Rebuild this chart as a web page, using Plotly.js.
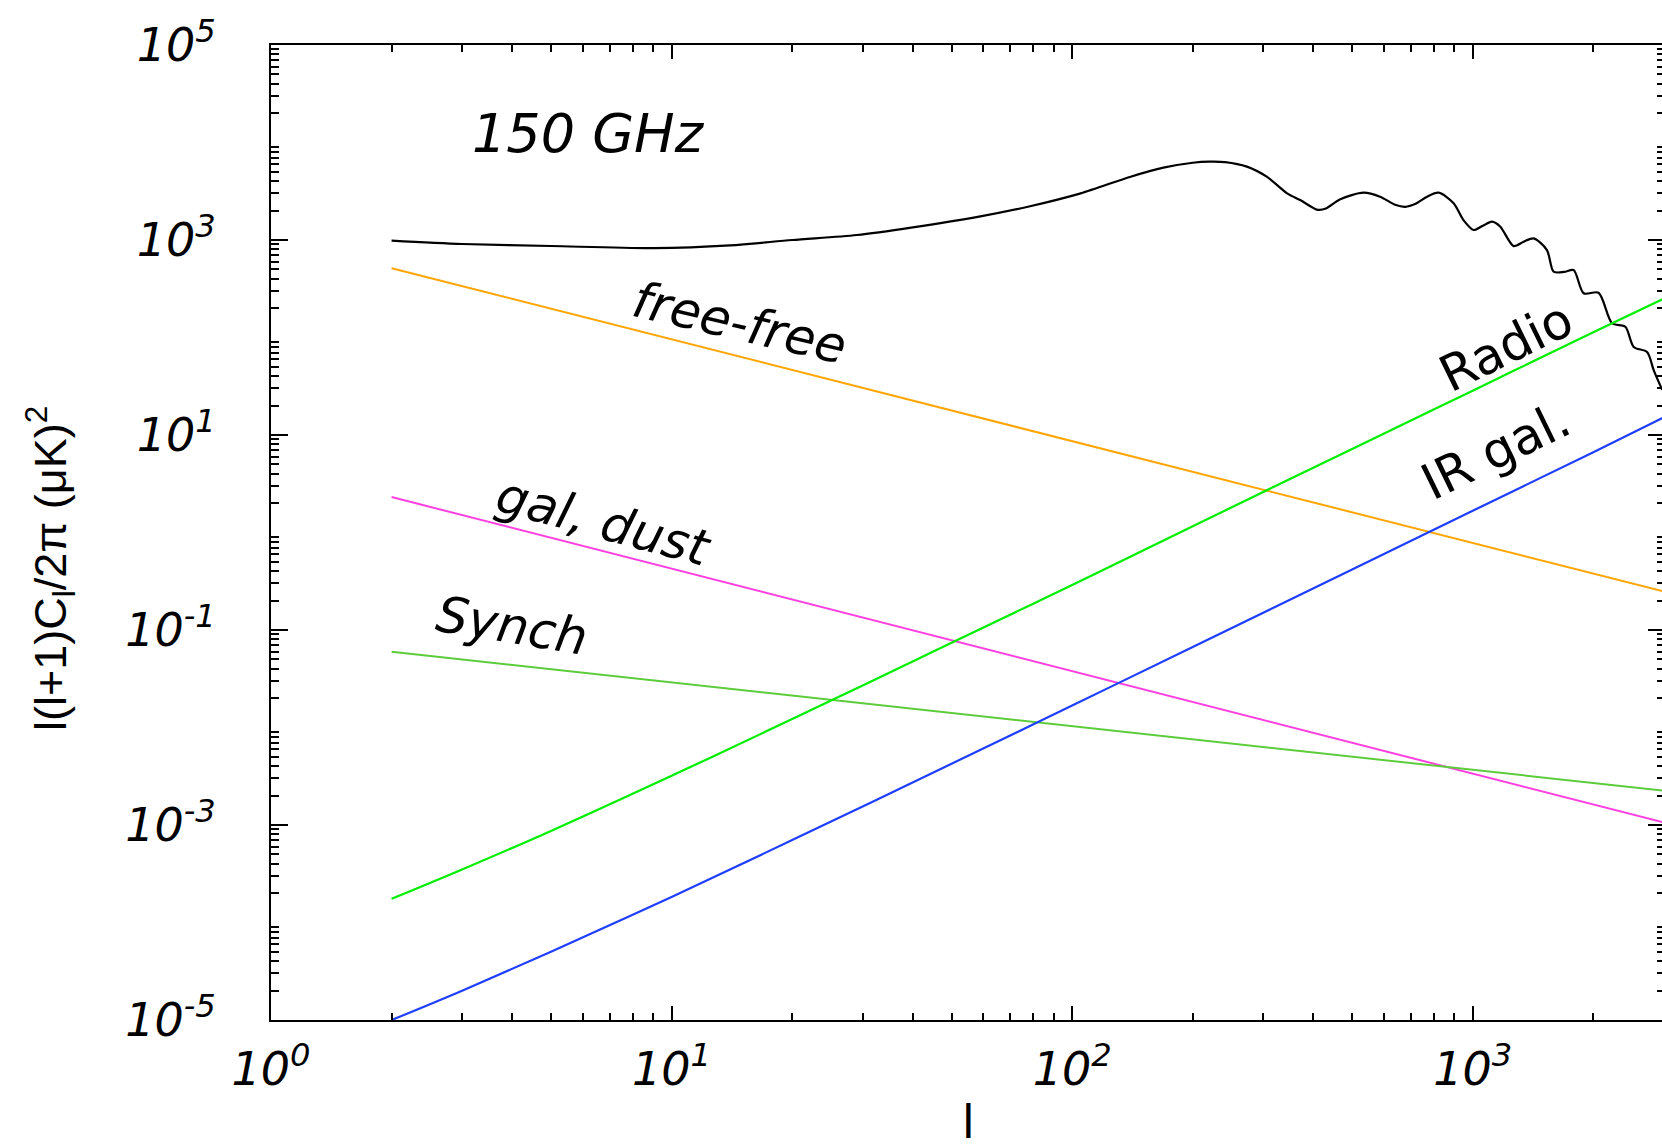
<!DOCTYPE html>
<html>
<head>
<meta charset="utf-8">
<script src="https://cdn.plot.ly/plotly-3.0.1.min.js"></script>
<style>
html, body { margin: 0; padding: 0; overflow: hidden; background: #fff; }
#chart { width: 1665px; height: 1147px; }
</style>
</head>
<body>
<div id="chart"></div>
<script>
// ---- data (multipole l, l(l+1)C_l/2pi in uK^2) ----
const ellCMB = [2, 3, 5, 9, 14, 20, 29, 40, 59, 79, 105, 140, 169, 200, 220, 241, 273, 306, 344, 371, 410, 430, 467, 534, 587, 640, 678, 720, 769, 822, 896, 948, 1005, 1060, 1117, 1172, 1265, 1340, 1419, 1532, 1592, 1690, 1786, 1892, 2061, 2228, 2404, 2523, 2724, 2831, 2972];
const cmb150 = [985, 910, 868, 825, 880, 1000, 1125, 1350, 1750, 2235, 3010, 4460, 5520, 6200, 6370, 6300, 5660, 4460, 3010, 2570, 2040, 2100, 2620, 3055, 2780, 2300, 2190, 2350, 2780, 3055, 2380, 1600, 1267, 1400, 1541, 1369, 866, 960, 1040, 789, 473, 470, 492, 284, 288, 140, 129, 80, 71, 46, 29];

const ellFG = [2, 10, 100, 1000, 3000];
const freeFree = [514, 95.7, 8.65, 0.782, 0.248];
const galDust = [2.31, 0.425, 0.0378, 0.00336, 0.00106];
const synch = [0.0597, 0.0290, 0.01035, 0.00369, 0.00225];

const ellPS = [2, 3, 5, 10, 20, 50, 100, 200, 500, 1000, 2000, 3000];
const radio = [1.75e-4, 3.5e-4, 8.7e-4, 3.2e-3, 0.0122, 0.074, 0.29, 1.16, 7.2, 28.5, 113, 250];
const irGal = [1.0e-5, 2.0e-5, 5.0e-5, 1.83e-4, 7.0e-4, 4.25e-3, 0.0168, 0.067, 0.418, 1.67, 6.67, 15.2];

const xTickVals = [1, 10, 100, 1000];
const xTickText = ['10<sup>0</sup>', '10<sup>1</sup>', '10<sup>2</sup>', '10<sup>3</sup>'];
const yTickVals = [1e-5, 1e-3, 1e-1, 10, 1e3, 1e5];
const yTickText = ['10<sup>-5</sup>', '10<sup>-3</sup>', '10<sup>-1</sup>', '10<sup>1</sup>', '10<sup>3</sup>', '10<sup>5</sup>'];
const yUnlabelledDecades = [1e-4, 1e-2, 1, 100, 1e4];

// minor tick positions (axis decoration)
function minorVals(lo, hi, maxv) {
  const out = [];
  for (let e = lo; e <= hi; e++) {
    for (let m = 2; m <= 9; m++) {
      const v = m * Math.pow(10, e);
      if (v <= maxv) out.push(v);
    }
  }
  return out;
}

const W = 1665, H = 1147, ML = 271, MR = 0, MT = 45, MB = 127;
const PW = W - ML - MR, PH = H - MT - MB;
function px(x) { return (x - ML) / PW; }
function py(y) { return (H - MB - y) / PH; }

const italic = {family: 'DejaVu Sans', size: 46, style: 'italic', color: '#000'};
const labelFont = {family: 'DejaVu Sans', size: 50, style: 'italic', color: '#000'};
const uprightLabel = {family: 'DejaVu Sans', size: 50, style: 'normal', color: '#000'};

const traces = [
  {x: ellCMB, y: cmb150, mode: 'lines', line: {color: '#000000', width: 2.2, shape: 'spline', smoothing: 0.8}, name: 'CMB'},
  {x: ellFG, y: freeFree, mode: 'lines', line: {color: '#ffa500', width: 2}, name: 'free-free'},
  {x: ellFG, y: galDust, mode: 'lines', line: {color: '#ff40e0', width: 2}, name: 'gal, dust'},
  {x: ellFG, y: synch, mode: 'lines', line: {color: '#5ccc3c', width: 2}, name: 'Synch'},
  {x: ellPS, y: radio, mode: 'lines', line: {color: '#00ee00', width: 2.2, shape: 'spline'}, name: 'Radio'},
  {x: ellPS, y: irGal, mode: 'lines', line: {color: '#1f3fff', width: 2.2, shape: 'spline'}, name: 'IR gal.'}
];

const axisCommon = {
  type: 'log', showgrid: false, zeroline: false, showline: true,
  linecolor: '#000', linewidth: 2, mirror: 'ticks', ticks: 'inside',
  tickwidth: 2, tickcolor: '#000', tickmode: 'array',
  tickfont: italic, automargin: false
};

const layout = {
  width: W, height: H,
  margin: {l: ML, r: MR, t: MT, b: MB, pad: 0},
  paper_bgcolor: '#fff', plot_bgcolor: '#fff',
  showlegend: false,
  xaxis: Object.assign({}, axisCommon, {
    range: [0, 3.48], tickvals: xTickVals, ticktext: xTickText, ticklen: 14,
    ticklabelstandoff: 8,
    minor: {ticks: 'inside', ticklen: 7, tickwidth: 2, tickcolor: '#000', tickmode: 'array', tickvals: minorVals(0, 3, 3000), showgrid: false}
  }),
  yaxis: Object.assign({}, axisCommon, {
    range: [-5, 5], tickvals: yTickVals, ticktext: yTickText, ticklen: 17,
    ticklabelstandoff: 44,
    minor: {ticks: 'inside', ticklen: 8, tickwidth: 2, tickcolor: '#000', tickmode: 'array', tickvals: minorVals(-5, 4, 1e5), showgrid: false}
  }),
  yaxis2: {
    type: 'log', overlaying: 'y', anchor: 'x', side: 'left', range: [-5, 5],
    showgrid: false, zeroline: false, showline: true, linecolor: '#000', linewidth: 2,
    mirror: 'ticks', ticks: 'inside', ticklen: 17, tickwidth: 2, tickcolor: '#000',
    tickmode: 'array', tickvals: yUnlabelledDecades, showticklabels: false, automargin: false
  },
  annotations: [
    {text: '150 GHz', x: px(588), y: py(133), xref: 'paper', yref: 'paper', showarrow: false, font: Object.assign({}, italic, {size: 54}), xanchor: 'center', yanchor: 'middle'},
    {text: 'free-free', x: px(739), y: py(323), xref: 'paper', yref: 'paper', showarrow: false, font: labelFont, textangle: 13, xanchor: 'center', yanchor: 'middle'},
    {text: 'gal, dust', x: px(604), y: py(522), xref: 'paper', yref: 'paper', showarrow: false, font: labelFont, textangle: 15, xanchor: 'center', yanchor: 'middle'},
    {text: 'Synch', x: px(512), y: py(626), xref: 'paper', yref: 'paper', showarrow: false, font: labelFont, textangle: 9.5, xanchor: 'center', yanchor: 'middle'},
    {text: 'Radio', x: px(1506), y: py(347), xref: 'paper', yref: 'paper', showarrow: false, font: uprightLabel, textangle: -26, xanchor: 'center', yanchor: 'middle'},
    {text: 'IR gal.', x: px(1496), y: py(451), xref: 'paper', yref: 'paper', showarrow: false, font: uprightLabel, textangle: -26, xanchor: 'center', yanchor: 'middle'},
    {text: 'l', x: px(968), y: py(1121), xref: 'paper', yref: 'paper', showarrow: false, font: {family: 'Liberation Sans', size: 48, color: '#000'}, xanchor: 'center', yanchor: 'middle'},
    {text: 'l(l+1)C<sub>l</sub>/2π (μK)<sup>2</sup>', x: px(50), y: py(569), xref: 'paper', yref: 'paper', showarrow: false, font: {family: 'Liberation Sans', size: 45, color: '#000'}, textangle: -90, xanchor: 'center', yanchor: 'middle'}
  ]
};

Plotly.newPlot('chart', traces, layout, {staticPlot: true, displayModeBar: false});
</script>
</body>
</html>
